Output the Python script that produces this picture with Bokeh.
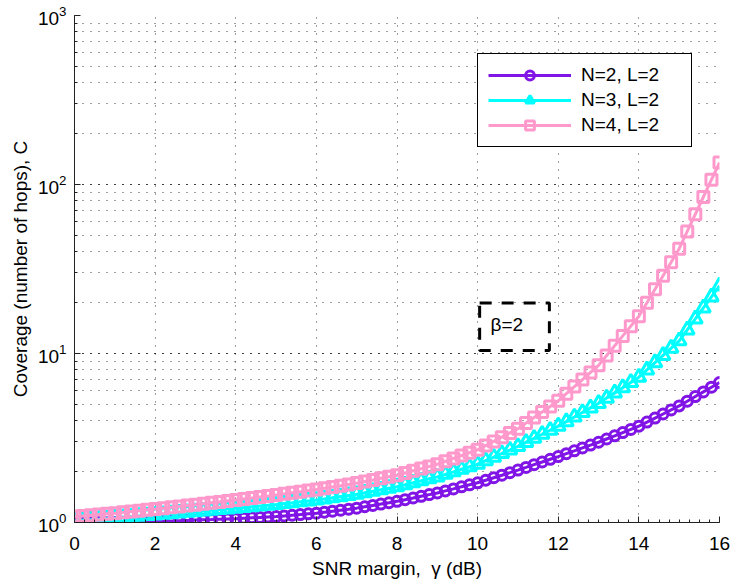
from bokeh.plotting import figure
from bokeh.models import (Range1d, Legend, LegendItem, BoxAnnotation, Label,
                          SingleIntervalTicker)
from bokeh.embed import file_html
from bokeh.resources import INLINE

# ---------------- data ----------------
gamma_db = [0.0, 0.2, 0.4, 0.6, 0.8, 1.0, 1.2, 1.4, 1.6, 1.8,
            2.0, 2.2, 2.4, 2.6, 2.8, 3.0, 3.2, 3.4, 3.6, 3.8,
            4.0, 4.2, 4.4, 4.6, 4.8, 5.0, 5.2, 5.4, 5.6, 5.8,
            6.0, 6.2, 6.4, 6.6, 6.8, 7.0, 7.2, 7.4, 7.6, 7.8,
            8.0, 8.2, 8.4, 8.6, 8.8, 9.0, 9.2, 9.4, 9.6, 9.8,
            10.0, 10.2, 10.4, 10.6, 10.8, 11.0, 11.2, 11.4, 11.6, 11.8,
            12.0, 12.2, 12.4, 12.6, 12.8, 13.0, 13.2, 13.4, 13.6, 13.8,
            14.0, 14.2, 14.4, 14.6, 14.8, 15.0, 15.2, 15.4, 15.6, 15.8,
            16.0]

cov_n2 = [0.991, 0.993, 0.994, 0.996, 0.998,
          1.000, 1.003, 1.006, 1.008, 1.011,
          1.014, 1.018, 1.021, 1.025, 1.029,
          1.033, 1.037, 1.041, 1.046, 1.050,
          1.054, 1.060, 1.066, 1.072, 1.078,
          1.084, 1.094, 1.104, 1.114, 1.125,
          1.135, 1.151, 1.167, 1.183, 1.199,
          1.216, 1.239, 1.262, 1.285, 1.309,
          1.334, 1.365, 1.396, 1.429, 1.462,
          1.496, 1.538, 1.581, 1.626, 1.671,
          1.718, 1.778, 1.841, 1.905, 1.972,
          2.042, 2.118, 2.198, 2.280, 2.366,
          2.455, 2.553, 2.655, 2.761, 2.871,
          2.985, 3.119, 3.258, 3.404, 3.556,
          3.715, 3.926, 4.150, 4.385, 4.634,
          4.898, 5.220, 5.563, 5.928, 6.317,
          6.730]

cov_n3 = [1.023, 1.031, 1.039, 1.047, 1.056,
          1.064, 1.073, 1.082, 1.091, 1.100,
          1.109, 1.119, 1.129, 1.139, 1.149,
          1.159, 1.170, 1.181, 1.193, 1.204,
          1.216, 1.228, 1.241, 1.254, 1.266,
          1.279, 1.295, 1.310, 1.326, 1.342,
          1.358, 1.380, 1.402, 1.423, 1.446,
          1.469, 1.500, 1.531, 1.563, 1.596,
          1.629, 1.673, 1.719, 1.765, 1.813,
          1.862, 1.928, 1.995, 2.065, 2.138,
          2.213, 2.323, 2.438, 2.559, 2.685,
          2.818, 2.979, 3.148, 3.327, 3.516,
          3.715, 3.954, 4.207, 4.477, 4.764,
          5.070, 5.445, 5.848, 6.281, 6.745,
          7.244, 7.998, 8.831, 9.750, 10.76,
          11.89, 13.80, 16.03, 18.62, 21.63,
          25.12]

cov_n4 = [1.084, 1.094, 1.104, 1.114, 1.125,
          1.135, 1.148, 1.161, 1.175, 1.189,
          1.202, 1.216, 1.230, 1.245, 1.259,
          1.274, 1.290, 1.307, 1.324, 1.341,
          1.358, 1.377, 1.396, 1.416, 1.435,
          1.455, 1.477, 1.499, 1.521, 1.544,
          1.567, 1.594, 1.623, 1.651, 1.680,
          1.710, 1.748, 1.786, 1.825, 1.865,
          1.905, 1.963, 2.023, 2.084, 2.148,
          2.213, 2.301, 2.393, 2.489, 2.588,
          2.692, 2.851, 3.020, 3.199, 3.388,
          3.589, 3.873, 4.178, 4.508, 4.864,
          5.248, 5.781, 6.368, 7.015, 7.727,
          8.511, 9.727, 11.12, 12.71, 14.52,
          16.60, 19.95, 23.99, 28.84, 34.67,
          41.69, 52.72, 66.68, 84.33, 106.7,
          134.9]

series_labels = ["N=2, L=2", "N=3, L=2", "N=4, L=2"]

# annotation box "beta=2" (data coordinates)
beta_text = "\u03b2=2"
beta_box = dict(left=10.05, right=11.78, bottom=10.4, top=19.9)
beta_pos = (10.32, 14.85)

FONT = "Liberation Sans"
FS = "19px"

p = figure(width=731, height=581,
           x_range=Range1d(0, 16), y_range=Range1d(1, 1000),
           y_axis_type="log",
           output_backend="svg", toolbar_location=None,
           min_border_left=74, min_border_right=12,
           min_border_top=15, min_border_bottom=59)
p.outline_line_color = None
p.background_fill_color = "white"
p.border_fill_color = "white"

# axes
p.xaxis.ticker = SingleIntervalTicker(interval=2, num_minor_ticks=8)
for ax in (p.xaxis[0], p.yaxis[0]):
    ax.axis_line_color = "#222222"
    ax.major_tick_line_color = "#222222"
    ax.minor_tick_line_color = "#222222"
    ax.major_tick_in = 6
    ax.major_tick_out = 0
    ax.minor_tick_in = 3
    ax.minor_tick_out = 0
    ax.major_label_text_font = FONT
    ax.major_label_text_font_size = FS
    ax.major_label_text_color = "black"
    ax.axis_label_text_font = FONT
    ax.axis_label_text_font_size = FS
    ax.axis_label_text_font_style = "normal"
    ax.axis_label_text_color = "black"

p.xaxis.axis_label = "SNR margin,\u00a0 \u03b3 (dB)"
p.yaxis.axis_label = "Coverage (number of hops), C"
p.xaxis.major_label_standoff = 14
p.xaxis.axis_label_standoff = 5
p.yaxis.major_label_standoff = 8
p.yaxis.axis_label_standoff = 4

# grid: dotted
p.xgrid.grid_line_color = "black"
p.xgrid.grid_line_dash = "1 7"
p.xgrid.grid_line_alpha = 0.75
p.ygrid.grid_line_color = "black"
p.ygrid.grid_line_dash = "1 7"
p.ygrid.grid_line_alpha = 0.75
p.ygrid.minor_grid_line_color = "black"
p.ygrid.minor_grid_line_dash = "1 7"
p.ygrid.minor_grid_line_alpha = 0.75

colors = ["#8015E6", "#00FFFF", "#FF99CC"]
markers = ["circle", "triangle", "square"]
sizes = [10, 14, 11]
widths = [3, 3, 3]
series = [cov_n2, cov_n3, cov_n4]

items = []
for ys, col, mk, sz, lw, lab in zip(series, colors, markers, sizes, widths,
                                    series_labels):
    ln = p.line(gamma_db, ys, line_color=col, line_width=3)
    sc = p.scatter(gamma_db, ys, marker=mk, size=sz, line_color=col,
                   fill_color=None, line_width=lw)
    items.append(LegendItem(label=lab, renderers=[ln, sc]))

legend = Legend(items=items, location=(403, 375))
legend.label_text_font = FONT
legend.label_text_font_size = FS
legend.label_text_color = "black"
legend.border_line_color = "black"
legend.border_line_width = 1.5
legend.border_line_alpha = 1
legend.background_fill_color = "white"
legend.background_fill_alpha = 1
legend.padding = 10
legend.spacing = 3
legend.glyph_width = 83
legend.glyph_height = 22
legend.label_height = 22
legend.label_standoff = 10
legend.label_width = 100
legend.margin = 0
p.add_layout(legend)

box = BoxAnnotation(fill_color=None, fill_alpha=0, line_color="black",
                    line_alpha=1, line_width=3, line_dash="12 10", **beta_box)
p.add_layout(box)
lbl = Label(x=beta_pos[0], y=beta_pos[1], text=beta_text,
            text_font=FONT, text_font_size=FS, text_color="black",
            text_align="left", text_baseline="middle")
p.add_layout(lbl)

open("out.html", "w").write(file_html(p, INLINE))
